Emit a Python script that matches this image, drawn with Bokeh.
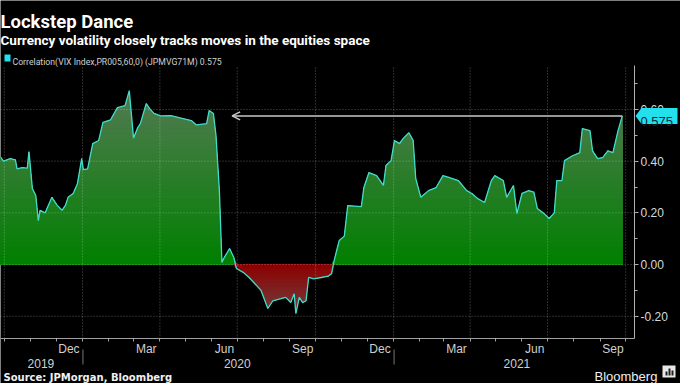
import re
import numpy as np
from bokeh.plotting import figure
from bokeh.models import (Range1d, FixedTicker, NumeralTickFormatter, DatetimeTickFormatter,
                          Label, Arrow, OpenHead, BoxAnnotation, PolyAnnotation)
from bokeh.embed import file_html
from bokeh.resources import INLINE

# ---------------- data ----------------
dates = [
    "2019-09-26", "2019-09-30", "2019-10-08", "2019-10-14", "2019-10-16", "2019-10-22",
    "2019-10-28", "2019-10-30", "2019-11-03", "2019-11-07", "2019-11-10", "2019-11-12",
    "2019-11-18", "2019-11-26", "2019-12-02", "2019-12-08", "2019-12-12", "2019-12-15",
    "2019-12-21", "2019-12-26", "2019-12-31", "2020-01-02", "2020-01-07", "2020-01-13",
    "2020-01-20", "2020-01-25", "2020-02-03", "2020-02-11", "2020-02-20", "2020-02-25",
    "2020-03-01", "2020-03-06", "2020-03-09", "2020-03-16", "2020-03-20", "2020-03-25",
    "2020-04-02", "2020-04-14", "2020-05-08", "2020-05-14", "2020-05-26", "2020-05-29",
    "2020-06-03", "2020-06-06", "2020-06-10", "2020-06-13", "2020-06-15", "2020-06-22",
    "2020-06-27", "2020-06-30", "2020-07-08", "2020-07-15", "2020-07-29", "2020-08-06",
    "2020-08-12", "2020-08-27", "2020-09-02", "2020-09-06", "2020-09-08", "2020-09-12",
    "2020-09-16", "2020-09-20", "2020-09-23", "2020-09-29", "2020-10-08", "2020-10-16",
    "2020-10-20", "2020-10-23", "2020-10-29", "2020-11-04", "2020-11-08", "2020-11-24",
    "2020-11-27", "2020-12-03", "2020-12-12", "2020-12-20", "2020-12-23", "2020-12-29",
    "2021-01-02", "2021-01-08", "2021-01-12", "2021-01-19", "2021-01-24", "2021-01-27",
    "2021-02-02", "2021-02-11", "2021-02-20", "2021-02-28", "2021-03-07", "2021-03-18",
    "2021-03-28", "2021-04-03", "2021-04-10", "2021-04-18", "2021-04-26", "2021-04-30",
    "2021-05-10", "2021-05-14", "2021-05-22", "2021-05-26", "2021-06-01", "2021-06-09",
    "2021-06-15", "2021-06-19", "2021-06-27", "2021-07-03", "2021-07-09", "2021-07-12",
    "2021-07-18", "2021-07-21", "2021-07-30", "2021-08-08", "2021-08-11", "2021-08-20",
    "2021-08-23", "2021-08-29", "2021-09-04", "2021-09-10", "2021-09-16", "2021-09-22",
    "2021-09-27",
]
values = [
    0.418, 0.400, 0.410, 0.405, 0.370, 0.375,
    0.373, 0.437, 0.294, 0.267, 0.170, 0.210,
    0.200, 0.260, 0.230, 0.210, 0.230, 0.260,
    0.275, 0.313, 0.410, 0.367, 0.370, 0.468,
    0.480, 0.550, 0.560, 0.607, 0.615, 0.673,
    0.490, 0.530, 0.545, 0.623, 0.603, 0.585,
    0.575, 0.576, 0.557, 0.540, 0.545, 0.596,
    0.584, 0.500, 0.286, 0.008, 0.023, 0.062,
    0.027, -0.015, -0.030, -0.050, -0.100, -0.170,
    -0.140, -0.127, -0.147, -0.113, -0.190, -0.127,
    -0.147, -0.140, -0.050, -0.055, -0.050, -0.045,
    -0.035, 0.015, 0.093, 0.110, 0.228, 0.224,
    0.298, 0.356, 0.344, 0.306, 0.383, 0.402,
    0.480, 0.468, 0.487, 0.510, 0.480, 0.333,
    0.260, 0.286, 0.298, 0.344, 0.337, 0.325,
    0.286, 0.275, 0.255, 0.240, 0.325, 0.344,
    0.325, 0.260, 0.306, 0.197, 0.275, 0.286,
    0.280, 0.217, 0.197, 0.178, 0.200, 0.325,
    0.325, 0.402, 0.420, 0.433, 0.526, 0.518,
    0.440, 0.410, 0.414, 0.440, 0.433, 0.518,
    0.575,
]

title_text = "Lockstep Dance"
subtitle_text = "Currency volatility closely tracks moves in the equities space"
legend_text = "Correlation(VIX Index,PR005,60,0) (JPMVG71M) 0.575"
source_text = "Source: JPMorgan, Bloomberg"
brand_text = "Bloomberg"
last_label = "0.575"

y_ticks = [-0.2, 0.0, 0.2, 0.4, 0.6]
y_minor = [-0.1, 0.1, 0.3, 0.5, 0.7]
month_label_dates = ["2019-12-16", "2020-03-16", "2020-06-16", "2020-09-16",
                     "2020-12-16", "2021-03-16", "2021-06-16", "2021-09-16"]
month_starts = ["2019-10-01", "2019-11-01", "2019-12-01", "2020-01-01", "2020-02-01",
                "2020-03-01", "2020-04-01", "2020-05-01", "2020-06-01", "2020-07-01",
                "2020-08-01", "2020-09-01", "2020-10-01", "2020-11-01", "2020-12-01",
                "2021-01-01", "2021-02-01", "2021-03-01", "2021-04-01", "2021-05-01",
                "2021-06-01", "2021-07-01", "2021-08-01", "2021-09-01", "2021-10-01"]
quarter_starts = ["2019-10-01", "2020-01-01", "2020-04-01", "2020-07-01", "2020-10-01",
                  "2021-01-01", "2021-04-01", "2021-07-01", "2021-10-01"]
year_labels = ["2019", "2020", "2021"]
year_label_dates = ["2019-11-13", "2020-07-01", "2021-05-26"]
year_breaks = ["2020-01-01", "2021-01-01"]
arrow_end_date = "2020-06-25"
chart_x_start, chart_x_end = "2019-09-26T12:00", "2021-10-11T09:00"
chart_y_lo, chart_y_hi = -0.286, 0.770


def ms(d):
    return float(np.datetime64(d, "ms").astype("int64"))


x = np.array([ms(d) for d in dates])
v = np.array(values)

# canvas geometry (px): chart frame occupies x 0..634, y 65..338 of the 680x383 canvas
W, H = 680, 383
CL, CR, CT, CB = 0, 634, 65, 338

x0, x1 = ms(chart_x_start), ms(chart_x_end)
xpp = (x1 - x0) / (CR - CL)
ypp = (chart_y_hi - chart_y_lo) / (CB - CT)
x_range = Range1d(x0 - CL * xpp, x1 + (W - CR) * xpp)
y_range = Range1d(chart_y_lo - (H - CB) * ypp, chart_y_hi + CT * ypp)


def sy(canvas_y):
    return H - canvas_y


p = figure(width=W, height=H, x_axis_type="datetime", y_axis_location="right",
           output_backend="svg", toolbar_location=None,
           x_range=x_range, y_range=y_range,
           min_border=0, min_border_left=0, min_border_right=0, min_border_top=0,
           min_border_bottom=0,
           background_fill_color="black", border_fill_color="black",
           outline_line_color=None)
p.xgrid.visible = False
p.ygrid.visible = False


def mix(c1, c2, t):
    return "#%02x%02x%02x" % tuple(int(round(a + (b - a) * t)) for a, b in zip(c1, c2))


# positive gradient area
g_lo, g_hi = (0, 128, 0), (84, 122, 84)
n = 40
top = 0.68
for k in range(n, 0, -1):
    hi = top * k / n
    p.varea(x=x, y1=0, y2=np.clip(v, 0, hi), fill_color=mix(g_lo, g_hi, (k - 0.5) / n),
            fill_alpha=1.0)

# negative gradient area
r_lo, r_hi = (140, 0, 0), (112, 66, 66)
bottom = -0.2
for k in range(n, 0, -1):
    lo = bottom * k / n
    p.varea(x=x, y1=np.clip(v, lo, 0), y2=0, fill_color=mix(r_lo, r_hi, (k - 0.5) / n),
            fill_alpha=1.0)

# grid lines from the tick arrays, limited to the chart area
qx = [ms(d) for d in quarter_starts]
p.segment(x0=qx, y0=[chart_y_lo] * len(qx), x1=qx, y1=[chart_y_hi] * len(qx),
          line_color="#ffffff", line_alpha=0.35, line_dash="1 2", line_width=1)
p.segment(x0=[x0] * len(y_ticks), y0=y_ticks, x1=[x1] * len(y_ticks), y1=y_ticks,
          line_color="#ffffff", line_alpha=0.35, line_dash="1 2", line_width=1)

p.line(x, v, line_color="#40dccb", line_width=1.3)

# x axis, fixed at the bottom of the chart area
xa = p.xaxis[0]
xa.fixed_location = chart_y_lo
xa.bounds = (x0, x1)
xa.ticker = FixedTicker(ticks=[ms(d) for d in month_label_dates],
                        minor_ticks=[ms(d) for d in month_starts])
xa.formatter = DatetimeTickFormatter(days="%b", months="%b", years="%b", hours="%b",
                                     minutes="%b", seconds="%b", milliseconds="%b",
                                     microseconds="%b", minsec="%b", hourmin="%b")
xa.axis_line_color = "#a0a0a0"
xa.major_tick_line_color = None
xa.major_tick_out = 0
xa.major_tick_in = 0
xa.minor_tick_line_color = "#a0a0a0"
xa.minor_tick_out = 3
xa.minor_tick_in = 0
xa.major_label_standoff = 0
xa.major_label_text_color = "#d0d0d0"
xa.major_label_text_font = "Liberation Sans"
xa.major_label_text_font_size = "12px"

# y axis, fixed at the right edge of the chart area
ya = p.yaxis[0]
ya.fixed_location = x1
ya.bounds = (chart_y_lo, chart_y_hi)
ya.ticker = FixedTicker(ticks=y_ticks, minor_ticks=y_minor)
ya.formatter = NumeralTickFormatter(format="0.00")
ya.axis_line_color = "#b0b0b0"
ya.major_tick_line_color = "#b0b0b0"
ya.minor_tick_line_color = "#b0b0b0"
ya.major_tick_out = 4
ya.major_tick_in = 0
ya.minor_tick_out = 3
ya.minor_tick_in = 0
ya.major_label_standoff = 2
ya.major_label_text_color = "#d8d8d8"
ya.major_label_text_font = "Liberation Sans"
ya.major_label_text_font_size = "12px"

# arrow to last value
p.add_layout(Arrow(end=OpenHead(size=8, line_color="#c8c8c8", line_width=1.5),
                   x_start=x[-1], y_start=v[-1], x_end=ms(arrow_end_date), y_end=v[-1],
                   line_color="#c8c8c8", line_width=1.5))

# last value tag
p.add_layout(PolyAnnotation(xs=[635, 641, 677, 677, 641],
                            ys=[sy(115.5), sy(107.5), sy(107.5), sy(123.5), sy(123.5)],
                            xs_units="screen", ys_units="screen",
                            fill_color="#22e0ec", fill_alpha=1.0, line_color=None))
p.add_layout(Label(x=640, y=sy(120.5), x_units="screen", y_units="screen",
                   text=last_label, text_color="#0b2a3a", text_font="Liberation Sans",
                   text_font_size="13px", text_baseline="alphabetic"))

# titles
p.add_layout(Label(x=0, y=sy(21), x_units="screen", y_units="screen", text=title_text,
                   text_color="white", text_font="Roboto",
                   text_font_style="bold", text_font_size="18.5px",
                   text_baseline="alphabetic"))
p.add_layout(Label(x=0, y=sy(39), x_units="screen", y_units="screen",
                   text=subtitle_text, text_color="white", text_font="Roboto",
                   text_font_style="bold", text_font_size="13.5px",
                   text_baseline="alphabetic"))
p.add_layout(BoxAnnotation(left=4, right=10, top=sy(54), bottom=sy(61),
                           left_units="screen", right_units="screen", top_units="screen",
                           bottom_units="screen", fill_color="#22e0ec", fill_alpha=1.0,
                           line_color=None))
p.add_layout(Label(x=12, y=sy(61), x_units="screen", y_units="screen",
                   text=legend_text, text_color="#d0d0d0", text_font="Roboto",
                   text_font_size="8.7px", text_baseline="alphabetic"))

# year labels and separators
for lab, d in zip(year_labels, year_label_dates):
    p.add_layout(Label(x=ms(d), y=sy(363), x_units="data", y_units="screen", text=lab,
                       text_color="#d0d0d0", text_font="Liberation Sans",
                       text_font_size="12px", text_align="center",
                       text_baseline="alphabetic"))
for d in year_breaks:
    p.add_layout(BoxAnnotation(left=ms(d), right=ms(d) + 86400000.0, top=sy(349),
                               bottom=sy(364), top_units="screen", bottom_units="screen",
                               fill_color="#8a8a8a", fill_alpha=1.0, line_color=None))

# footer
p.add_layout(Label(x=3, y=sy(377), x_units="screen", y_units="screen", text=source_text,
                   text_color="#f0f0f0", text_font="DejaVu Sans", text_font_style="bold",
                   text_font_size="10px", text_baseline="alphabetic"))
p.add_layout(Label(x=594, y=sy(376), x_units="screen", y_units="screen", text=brand_text,
                   text_color="#f0f0f0", text_font="Liberation Sans",
                   text_font_size="13px", text_baseline="alphabetic"))
p.add_layout(BoxAnnotation(left=662, right=675, top=sy(365), bottom=sy(377),
                           left_units="screen", right_units="screen", top_units="screen",
                           bottom_units="screen", fill_color="#e8e8e8", fill_alpha=1.0,
                           line_color=None))
# small bar icon inside the logo square
for bl, bt in ((665, 371), (668, 368), (671, 370)):
    p.add_layout(BoxAnnotation(left=bl, right=bl + 2, top=sy(bt), bottom=sy(375),
                               left_units="screen", right_units="screen", top_units="screen",
                               bottom_units="screen", fill_color="#202020", fill_alpha=1.0,
                               line_color=None))

html = file_html(p, INLINE)
html = re.sub(r"<body([^>]*)>",
              r'<body\1 style="margin:0;padding:0;background:#000000;overflow:hidden;">',
              html, count=1)
open("out.html", "w").write(html)
